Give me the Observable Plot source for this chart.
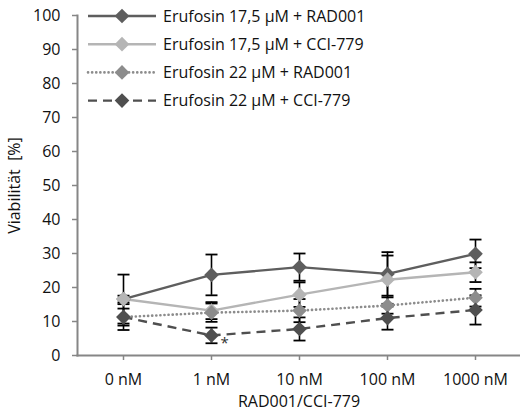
<!DOCTYPE html>
<html>
<head>
<meta charset="utf-8">
<script src="https://cdn.jsdelivr.net/npm/d3@7"></script>
<script src="https://cdn.jsdelivr.net/npm/@observablehq/plot@0.6"></script>
<style>
  html, body { margin: 0; padding: 0; background: #fff; }
  #wrap { position: relative; width: 520px; height: 414px; }
  #legend { position: absolute; left: 0; top: 0; pointer-events: none; }
</style>
</head>
<body>
<div id="wrap"><div id="chart"></div><svg id="legend" width="520" height="120"></svg></div>
<script>
const concentrations = ["0 nM", "1 nM", "10 nM", "100 nM", "1000 nM"];
const seriesNames = [
  "Erufosin 17,5 µM + RAD001",
  "Erufosin 17,5 µM + CCI-779",
  "Erufosin 22 µM + RAD001",
  "Erufosin 22 µM + CCI-779"
];
const meanS1 = [16.6, 23.7, 26.0, 24.0, 29.9];
const meanS2 = [16.6, 13.2, 17.9, 22.3, 24.5];
const meanS3 = [11.3, 12.6, 13.2, 14.7, 17.0];
const meanS4 = [11.3, 5.9, 7.8, 11.0, 13.4];
const sdS1 = [7.2, 6.0, 4.0, 6.4, 4.2];
const sdS2 = [1.0, 2.5, 3.6, 7.1, 2.9];
const sdS3 = [2.5, 2.7, 3.4, 2.4, 2.6];
const sdS4 = [3.8, 2.3, 3.4, 3.4, 4.3];
const yTicks = [0, 10, 20, 30, 40, 50, 60, 70, 80, 90, 100];
const annotations = [{conc: "1 nM", value: 5.9, label: "*"}];

const colors = ["#5e5e5e", "#b5b5b5", "#8c8c8c", "#4f4f4f"];
const dashes = [null, null, "0.1,4", "9,6"];
const means = [meanS1, meanS2, meanS3, meanS4];
const sds = [sdS1, sdS2, sdS3, sdS4];

const rows = [];
means.forEach((m, s) => m.forEach((v, i) => rows.push({
  series: seriesNames[s], s, conc: concentrations[i], value: v,
  lo: v - sds[s][i], hi: v + sds[s][i]
})));

const capSymbol = { draw(ctx, size) { ctx.moveTo(-6, 0); ctx.lineTo(6, 0); } };
const font = "'Open Sans', Lato, sans-serif";
const fs = 16;

const marks = [
  Plot.ruleX(rows, {x: "conc", y1: "lo", y2: "hi", stroke: "#000", strokeWidth: 1.6}),
  Plot.dot(rows, {x: "conc", y: "lo", symbol: capSymbol, stroke: "#000", strokeWidth: 1.8, r: 5}),
  Plot.dot(rows, {x: "conc", y: "hi", symbol: capSymbol, stroke: "#000", strokeWidth: 1.8, r: 5}),
];
seriesNames.forEach((name, s) => {
  const d = rows.filter(r => r.s === s);
  marks.push(Plot.line(d, {x: "conc", y: "value", stroke: colors[s], strokeWidth: s === 2 ? 2.6 : 2.4,
    strokeDasharray: dashes[s], strokeLinecap: s === 2 ? "round" : "butt"}));
});
seriesNames.forEach((name, s) => {
  const d = rows.filter(r => r.s === s);
  marks.push(Plot.dot(d, {x: "conc", y: "value", symbol: "diamond2", r: 6.6, fill: colors[s], stroke: "none"}));
});
marks.push(Plot.text(annotations, {x: "conc", y: "value", text: "label", dx: 13, dy: 8, fontSize: 15, fill: "#333"}));
marks.push(Plot.axisY({ticks: yTicks, tickSize: 5, tickPadding: 12, stroke: "#868686", strokeWidth: 1.5,
  label: "Viabilität  [%]", labelAnchor: "center", labelArrow: "none", labelOffset: 69, fontSize: fs, fill: "#111"}));
marks.push(Plot.axisX({tickSize: 5, tickPadding: 13, stroke: "#868686", strokeWidth: 1.5,
  label: "RAD001/CCI-779", labelAnchor: "center", labelArrow: "none", labelOffset: 51, fontSize: fs, fill: "#111"}));
marks.push(Plot.frame({anchor: "left", stroke: "#868686", strokeWidth: 2}));
marks.push(Plot.frame({anchor: "bottom", stroke: "#868686", strokeWidth: 2}));

const chart = Plot.plot({
  width: 520, height: 414,
  marginLeft: 77, marginRight: 0, marginTop: 15, marginBottom: 59,
  style: {fontFamily: font, fontSize: fs + "px", color: "#111", background: "#fff"},
  x: {type: "point", domain: concentrations, padding: 0.5},
  y: {domain: [0, 100]},
  marks
});
document.getElementById("chart").appendChild(chart);

// Legend overlay
const lg = d3.select("#legend");
seriesNames.forEach((name, s) => {
  const cy = 16 + s * 28.2;
  const g = lg.append("g");
  g.append("line").attr("x1", 88).attr("x2", 156).attr("y1", cy).attr("y2", cy)
    .attr("stroke", colors[s]).attr("stroke-width", s === 2 ? 2.6 : 2.4)
    .attr("stroke-dasharray", dashes[s]).attr("stroke-linecap", s === 2 ? "round" : "butt");
  g.append("path").attr("d", d3.symbol(d3.symbolDiamond2, Math.PI * 6.6 * 6.6)())
    .attr("transform", `translate(122,${cy})`).attr("fill", colors[s]);
  g.append("text").attr("x", 163).attr("y", cy).attr("dy", "0.35em")
    .attr("font-family", font).attr("font-size", fs).attr("fill", "#111").text(name);
});
</script>
</body>
</html>
